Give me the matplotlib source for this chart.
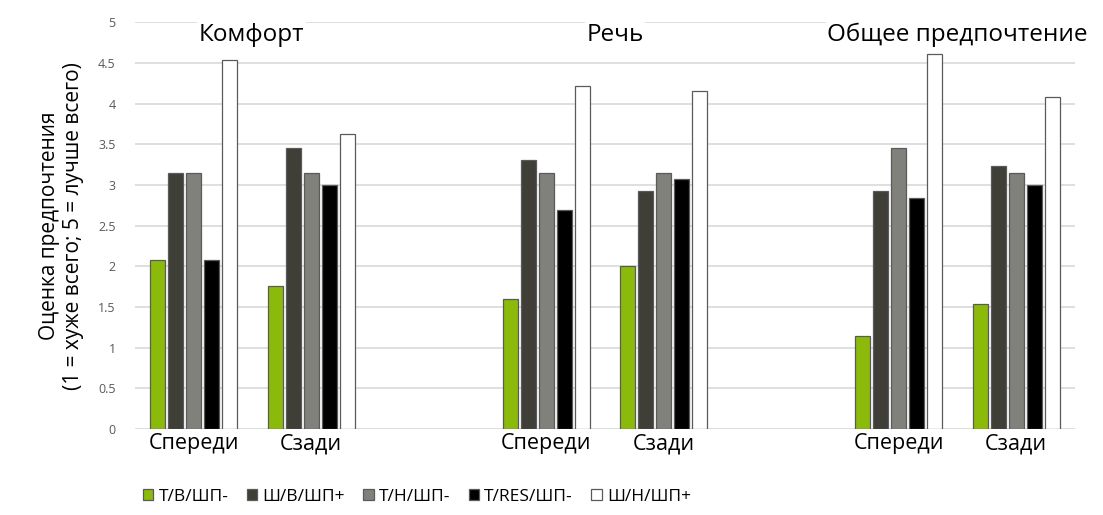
import numpy as np
import matplotlib.pyplot as plt

plt.rcParams['font.family'] = ['Open Sans', 'DejaVu Sans']

# categories along the x axis (blank slots separate the three groups)
categories = ['Спереди', 'Сзади', '', 'Спереди', 'Сзади', '', 'Спереди', 'Сзади']
group_titles = ['Комфорт', 'Речь', 'Общее предпочтение']
series_names = ['Т/В/ШП-', 'Ш/В/ШП+', 'Т/Н/ШП-', 'Т/RES/ШП-', 'Ш/Н/ШП+']

# values per series, one per non-blank category
tv_shp_minus = [2.08, 1.76, 1.60, 2.00, 1.14, 1.54]
shv_shp_plus = [3.15, 3.45, 3.30, 2.92, 2.92, 3.23]
tn_shp_minus = [3.15, 3.15, 3.15, 3.15, 3.45, 3.15]
tres_shp_minus = [2.08, 3.00, 2.69, 3.07, 2.84, 3.00]
shn_shp_plus = [4.53, 3.62, 4.22, 4.15, 4.61, 4.08]

series = [tv_shp_minus, shv_shp_plus, tn_shp_minus, tres_shp_minus, shn_shp_plus]
colors = ['#8cba0a', '#3f3f38', '#81817b', '#000000', '#ffffff']

fig = plt.figure(figsize=(11.03, 5.15), dpi=100)
ax = fig.add_axes([0.1224, 0.167, 0.8522, 0.790])

slots = np.array([i for i, c in enumerate(categories) if c])
step = 0.153
width = 0.128
for k, (vals, col) in enumerate(zip(series, colors)):
    x = slots + (k - 2) * step
    ax.bar(x, vals, width=width, color=col, edgecolor='#5a5a5a', linewidth=0.9,
           label=series_names[k], zorder=3)

ax.set_xlim(-0.5, len(categories) - 0.5)
ax.set_ylim(0, 5)
ax.set_yticks(np.arange(0, 5.01, 0.5))
ax.set_yticklabels(['0', '0.5', '1', '1.5', '2', '2.5', '3', '3.5', '4', '4.5', '5'])
ax.set_xticks(range(len(categories)))
ax.set_xticklabels(categories, fontsize=15.5)
ax.tick_params(axis='y', labelsize=9, colors='#595959', length=0, pad=14)
ax.tick_params(axis='x', length=0, pad=3)
ax.yaxis.grid(True, color='#d9d9d9', linewidth=1.2, zorder=0)
for s in ax.spines.values():
    s.set_visible(False)

ax.set_ylabel('Оценка предпочтения\n(1 = хуже всего; 5 = лучше всего)', fontsize=15, labelpad=10)

title_x = [0.49, 3.585, 6.5]
for tx, t in zip(title_x, group_titles):
    ax.text(tx, 4.84, t, ha='center', va='center', fontsize=17.5, zorder=4,
            bbox=dict(facecolor='white', edgecolor='none', pad=1))

fig.legend(loc='center', bbox_to_anchor=(0.378, 0.035), ncol=5, frameon=False,
           fontsize=12.5, handlelength=0.6, handleheight=0.6, columnspacing=1.05,
           handletextpad=0.3)

fig.savefig('out.png', dpi=100)
